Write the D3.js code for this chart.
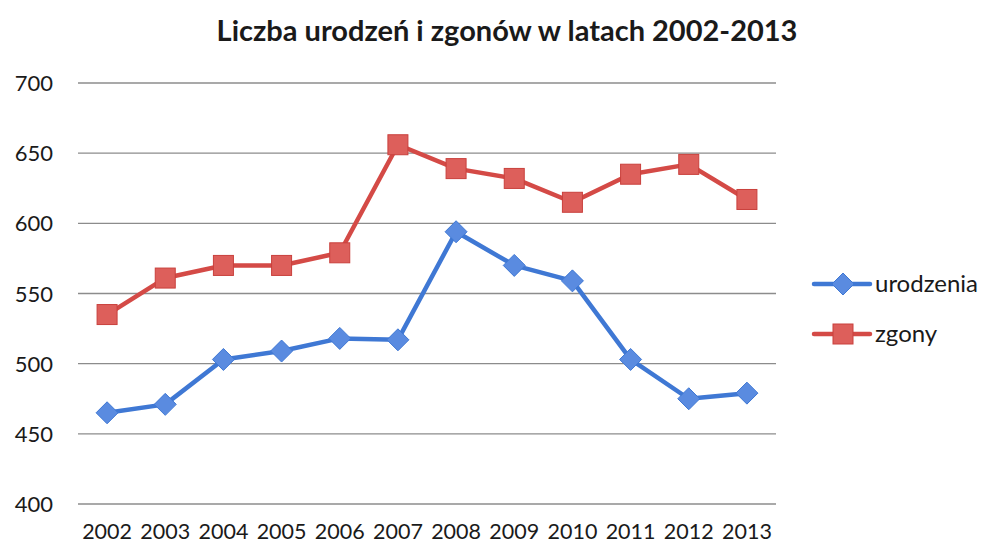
<!DOCTYPE html>
<html>
<head>
<meta charset="utf-8">
<script src="https://cdn.jsdelivr.net/npm/d3@7"></script>
<style>
  body { margin: 0; background: #fff; }
  text { font-family: Lato, "Open Sans", sans-serif; fill: #1a1a1a; }
</style>
</head>
<body>
<div id="chart"></div>
<script>
var years = ['2002', '2003', '2004', '2005', '2006', '2007', '2008', '2009', '2010', '2011', '2012', '2013'];
var urodzenia = [465, 471, 503, 509, 518, 517, 594, 570, 559, 503, 475, 479];
var zgony = [535, 561, 570, 570, 579, 656, 639, 632, 615, 635, 642, 617];
var yTicks = [400, 450, 500, 550, 600, 650, 700];
var seriesNames = ['urodzenia', 'zgony'];

var width = 984, height = 546;
var svg = d3.select('#chart').append('svg')
    .attr('width', width)
    .attr('height', height);

var x = d3.scalePoint().domain(years).range([78, 776]).padding(0.5);
var y = d3.scaleLinear().domain([400, 700]).range([504, 83]);

// tytuł
svg.append('text')
    .attr('x', 507).attr('y', 41)
    .attr('text-anchor', 'middle')
    .style('font-size', '29px')
    .style('font-weight', 'bold')
    .text('Liczba urodzeń i zgonów w latach 2002-2013');

// linie siatki
svg.append('g').selectAll('line').data(yTicks).enter().append('line')
    .attr('x1', 78).attr('x2', 776)
    .attr('y1', function(d) { return y(d); })
    .attr('y2', function(d) { return y(d); })
    .style('stroke', '#8c8c8c')
    .style('stroke-width', '1.3px');

// oś Y
svg.append('g').selectAll('text').data(yTicks).enter().append('text')
    .attr('x', 53)
    .attr('y', function(d) { return y(d) + 8; })
    .attr('text-anchor', 'end')
    .style('font-size', '22px')
    .text(function(d) { return d; });

// oś X
svg.append('g').selectAll('text').data(years).enter().append('text')
    .attr('x', function(d) { return x(d); })
    .attr('y', 539)
    .attr('text-anchor', 'middle')
    .style('font-size', '21.5px')
    .text(function(d) { return d; });

var series = [
    {name: seriesNames[0], values: urodzenia, line: '#3f78d4', fill: '#5a8be0', shape: 'diamond'},
    {name: seriesNames[1], values: zgony, line: '#d44a46', fill: '#dd5f5b', shape: 'square'}
];

var line = d3.line()
    .x(function(d, i) { return x(years[i]); })
    .y(function(d) { return y(d); });

function marker(sel, s) {
    if (s.shape === 'diamond') {
        sel.append('path').attr('d', 'M0,-11L11,0L0,11L-11,0Z')
            .style('fill', s.fill).style('stroke', s.line).style('stroke-width', '1px');
    } else {
        sel.append('rect').attr('x', -10).attr('y', -10).attr('width', 20).attr('height', 20)
            .style('fill', s.fill).style('stroke', '#c9403c').style('stroke-width', '1px');
    }
}

series.forEach(function(s) {
    svg.append('path')
        .datum(s.values)
        .attr('d', line)
        .style('fill', 'none')
        .style('stroke', s.line)
        .style('stroke-width', '4.5px')
        .style('stroke-linejoin', 'round');

    svg.append('g').selectAll('g').data(s.values).enter().append('g')
        .attr('transform', function(d, i) { return 'translate(' + x(years[i]) + ',' + y(d) + ')'; })
        .each(function() { marker(d3.select(this), s); });
});

// legenda
var legend = svg.append('g').selectAll('g').data(series).enter().append('g')
    .attr('transform', function(d, i) { return 'translate(0,' + (284 + i * 50) + ')'; });

legend.append('line')
    .attr('x1', 814).attr('x2', 870)
    .style('stroke', function(d) { return d.line; })
    .style('stroke-width', '4.5px')
    .style('stroke-linecap', 'round');

legend.append('g')
    .attr('transform', 'translate(843,0)')
    .each(function(d) { marker(d3.select(this), d); });

legend.append('text')
    .attr('x', 875).attr('y', 8)
    .style('font-size', '24px')
    .text(function(d) { return d.name; });
</script>
</body>
</html>
